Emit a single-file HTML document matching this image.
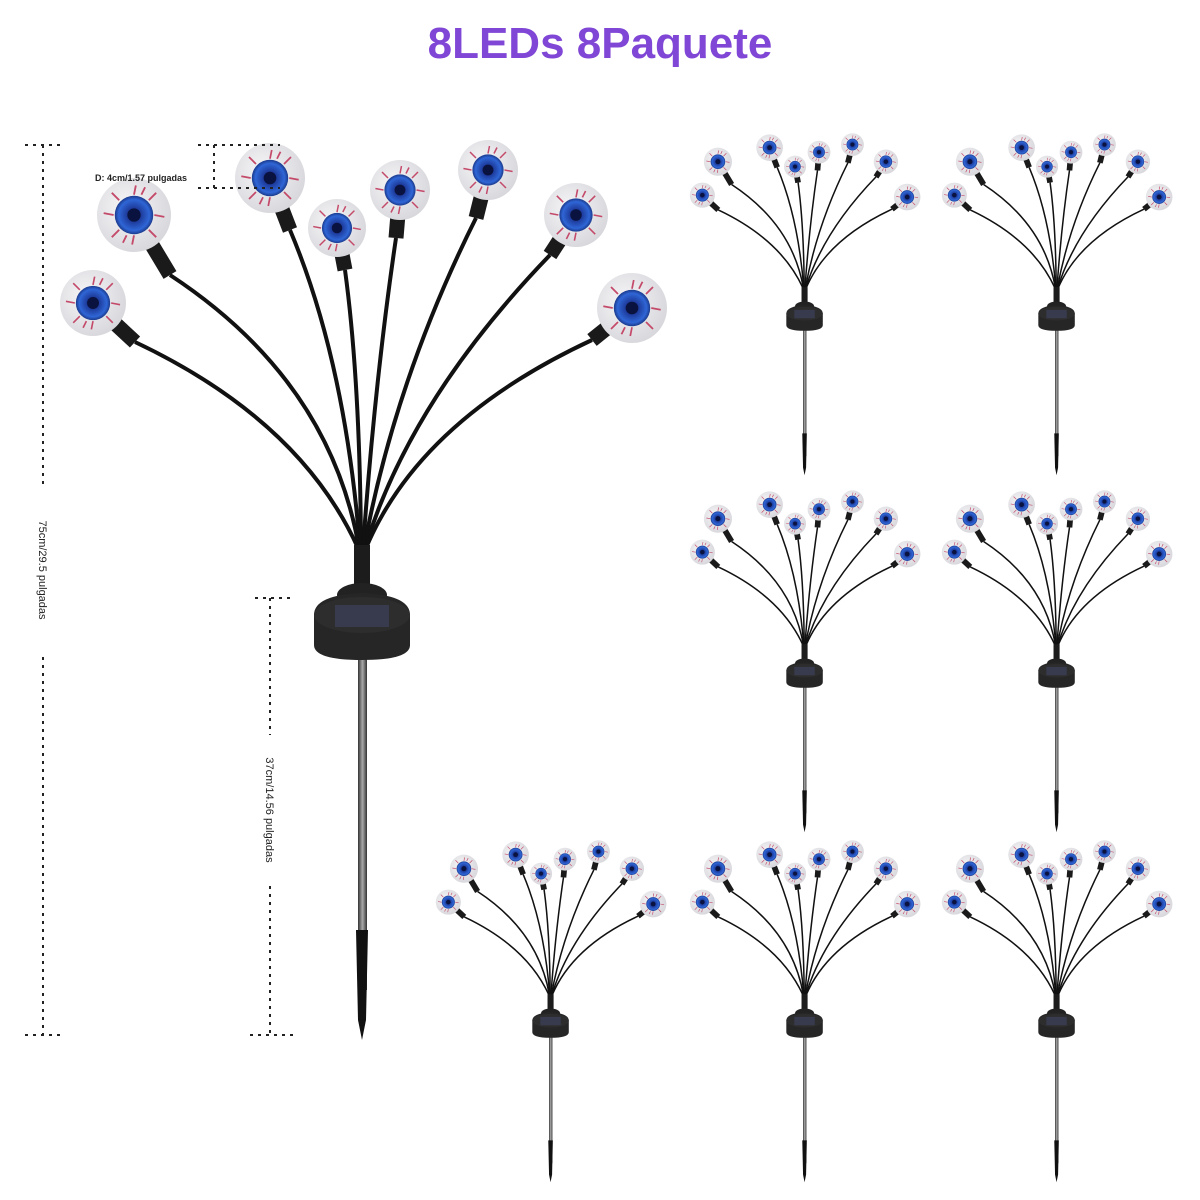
<!DOCTYPE html>
<html><head><meta charset="utf-8"><style>
html,body{margin:0;padding:0;background:#fff;width:1200px;height:1200px;overflow:hidden}
</style></head><body>
<svg width="1200" height="1200" viewBox="0 0 1200 1200" xmlns="http://www.w3.org/2000/svg" font-family="Liberation Sans, sans-serif">
<defs>
<radialGradient id="ball" cx="0.4" cy="0.4" r="0.7"><stop offset="0" stop-color="#f6f6f8"/><stop offset="1" stop-color="#d4d4d9"/></radialGradient>
<radialGradient id="iris" cx="0.5" cy="0.5" r="0.5"><stop offset="0" stop-color="#0c1a55"/><stop offset="0.35" stop-color="#1d3a9a"/><stop offset="0.8" stop-color="#2f66d6"/><stop offset="1" stop-color="#1b3a8c"/></radialGradient>
<linearGradient id="rod" x1="0" x2="1"><stop offset="0" stop-color="#333"/><stop offset="0.5" stop-color="#aaa"/><stop offset="1" stop-color="#333"/></linearGradient>
<g id="eye">
<circle r="1" fill="url(#ball)"/>
<g stroke="#c44a6a" stroke-width="0.05" fill="none">
<path d="M0,-0.55 L0.05,-0.8 M0.4,-0.4 L0.6,-0.6 M0.55,0 L0.82,0.05 M0.4,0.4 L0.6,0.6 M0,0.55 L-0.05,0.8 M-0.4,0.4 L-0.6,0.6 M-0.55,0 L-0.82,-0.05 M-0.4,-0.4 L-0.6,-0.6 M0.2,-0.55 L0.3,-0.75 M-0.2,0.55 L-0.3,0.75"/>
</g>
<circle r="0.52" fill="url(#iris)"/>
<circle r="0.18" fill="#0a1240"/>
</g>
<g id="lamp">
<rect x="358" y="620" width="9" height="370" fill="url(#rod)"/>
<path d="M356,930 L368,930 L366,1020 L362,1040 L358,1020 Z" fill="#111"/>
<g stroke="#111" stroke-width="4" fill="none">
<path d="M358,548 Q300,420 135,342"/>
<path d="M359,548 Q330,380 170,275"/>
<path d="M360,548 Q345,360 290,230"/>
<path d="M361,548 Q360,380 345,270"/>
<path d="M363,548 Q375,380 396,238"/>
<path d="M364,548 Q395,380 476,218"/>
<path d="M365,548 Q410,400 550,255"/>
<path d="M366,548 Q420,420 592,340"/>
</g>
<rect x="354" y="545" width="16" height="45" fill="#1c1c1c"/>
<ellipse cx="362" cy="595" rx="25" ry="12" fill="#222"/>
<path d="M314,615 Q314,595 362,593 Q410,595 410,615 L410,645 Q410,660 362,660 Q314,660 314,645 Z" fill="#262626"/>
<ellipse cx="362" cy="615" rx="48" ry="18" fill="#2d2d2d"/>
<rect x="335" y="605" width="54" height="22" fill="#3a3f55" opacity="0.8"/>
<g stroke-linecap="butt" stroke="#1a1a1a" stroke-width="15">
<line x1="135" y1="342" x2="93" y2="303"/>
<line x1="170" y1="275" x2="134" y2="215"/>
<line x1="290" y1="230" x2="270" y2="178"/>
<line x1="345" y1="270" x2="337" y2="228"/>
<line x1="396" y1="238" x2="400" y2="190"/>
<line x1="476" y1="218" x2="488" y2="170"/>
<line x1="550" y1="255" x2="576" y2="215"/>
<line x1="592" y1="340" x2="632" y2="308"/>
</g>
<use href="#eye" transform="translate(93,303) scale(33)"/>
<use href="#eye" transform="translate(134,215) scale(37)"/>
<use href="#eye" transform="translate(270,178) scale(35)"/>
<use href="#eye" transform="translate(337,228) scale(29)"/>
<use href="#eye" transform="translate(400,190) scale(30)"/>
<use href="#eye" transform="translate(488,170) scale(30)"/>
<use href="#eye" transform="translate(576,215) scale(32)"/>
<use href="#eye" transform="translate(632,308) scale(35)"/>
</g>
</defs>
<text x="600" y="58" text-anchor="middle" font-size="44" font-weight="bold" fill="#8047d6">8LEDs 8Paquete</text>
<use href="#lamp"/>
<use href="#lamp" transform="translate(667,80) scale(0.38)"/>
<use href="#lamp" transform="translate(919,80) scale(0.38)"/>
<use href="#lamp" transform="translate(667,437) scale(0.38)"/>
<use href="#lamp" transform="translate(919,437) scale(0.38)"/>
<use href="#lamp" transform="translate(413,787) scale(0.38)"/>
<use href="#lamp" transform="translate(667,787) scale(0.38)"/>
<use href="#lamp" transform="translate(919,787) scale(0.38)"/>
<g stroke="#222" stroke-width="2" stroke-dasharray="3,5" fill="none">
<line x1="43" y1="145" x2="43" y2="1035"/>
<line x1="25" y1="145" x2="65" y2="145"/>
<line x1="25" y1="1035" x2="65" y2="1035"/>
<line x1="270" y1="598" x2="270" y2="1035"/>
<line x1="255" y1="598" x2="295" y2="598"/>
<line x1="250" y1="1035" x2="295" y2="1035"/>
<line x1="214" y1="145" x2="214" y2="188"/>
<line x1="198" y1="145" x2="280" y2="145"/>
<line x1="198" y1="188" x2="280" y2="188"/>
</g>
<rect x="36" y="485" width="14" height="170" fill="#fff"/>
<text transform="translate(39,570) rotate(90)" text-anchor="middle" font-size="11" fill="#222">75cm/29.5 pulgadas</text>
<rect x="263" y="735" width="14" height="150" fill="#fff"/>
<text transform="translate(266,810) rotate(90)" text-anchor="middle" font-size="11" fill="#222">37cm/14.56 pulgadas</text>
<text x="95" y="181" font-size="9" font-weight="bold" fill="#222">D: 4cm/1.57 pulgadas</text>
</svg>
</body></html>
